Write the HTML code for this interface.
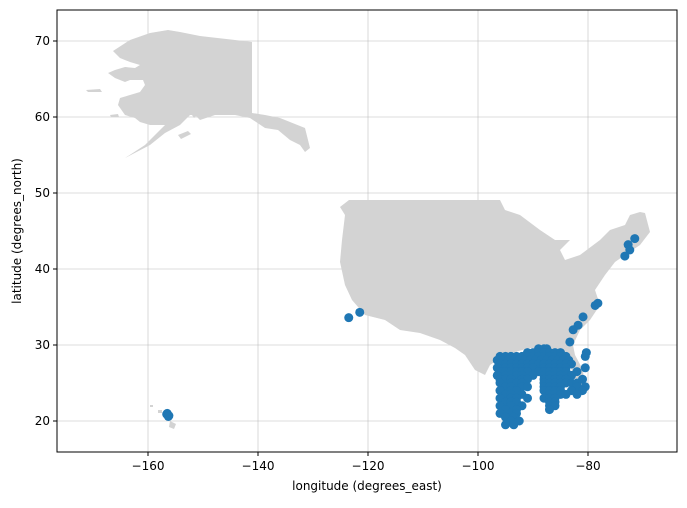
<!DOCTYPE html>
<html><head><meta charset="utf-8"><style>
body{margin:0;background:#fff;font-family:"Liberation Sans","DejaVu Sans",sans-serif}
svg text{font-family:"DejaVu Sans","Liberation Sans",sans-serif;font-size:12px;fill:#000}
</style></head><body>
<svg id="chart" width="687" height="503" viewBox="0 0 687 503" xmlns="http://www.w3.org/2000/svg">
<rect width="687" height="503" fill="#fff"/>
<defs><clipPath id="clip"><rect x="57" y="10" width="620" height="442"/></clipPath></defs>
<g id="grid"></g>
<g clip-path="url(#clip)">
<path fill="#d3d3d3" d="M113,51 L130,40 L150,33 L168,30 L180,32 L200,36 L235,40 L252,42 L252,113 L265,115 L280,118 L290,122 L305,128 L310,148 L305,152 L300,145 L290,140 L278,130 L265,128 L250,118 L235,115 L215,115 L200,120 L195,115 L190,115 L180,125 L165,133 L150,145 L125,158 L145,145 L155,135 L165,125 L150,125 L140,122 L135,118 L125,115 L118,105 L120,98 L130,95 L140,92 L145,85 L143,80 L130,80 L125,82 L115,78 L108,73 L115,70 L125,67 L135,68 L140,65 L130,62 L120,58 Z M178,135 L188,131 L191,134 L181,139 Z M190,112 L197,107 L201,111 L194,118 Z M86,90 L100,89 L102,92 L88,92 Z M110,115 L118,114 L119,117 L111,117 Z"/>
<path fill="#d3d3d3" d="M349,200 L500,200 L505,210 L520,215 L540,230 L555,240 L570,240 L560,250 L565,260 L580,255 L600,240 L610,230 L625,225 L630,215 L640,212 L645,213 L650,232 L640,245 L625,255 L615,262 L605,275 L595,290 L600,305 L590,320 L580,330 L573,345 L575,355 L583,370 L585,390 L580,395 L575,380 L570,365 L560,352 L545,348 L530,348 L515,352 L500,358 L490,365 L485,375 L475,370 L465,355 L455,348 L440,340 L420,333 L400,330 L385,320 L365,315 L352,300 L345,285 L340,262 L342,240 L345,215 L340,207 Z"/>
<path fill="#d3d3d3" d="M150,405 L153,405 L153,407 L150,407 Z M158,410 L162,410 L162,413 L158,413 Z M170,421 L176,424 L174,429 L169,427 Z"/>
</g>
<g id="points" clip-path="url(#clip)"></g>
<rect x="57" y="10" width="620" height="442" fill="none" stroke="#000" stroke-width="1"/>
<g id="axes"></g>
<text x="367" y="490" text-anchor="middle">longitude (degrees_east)</text>
<text transform="translate(21,231) rotate(-90)" text-anchor="middle">latitude (degrees_north)</text>
</svg>
<script>
const xTicks=[-160,-140,-120,-100,-80];
const yTicks=[20,30,40,50,60,70];
const lons=[-123.5,-121.5,-156.6,-156.3,-156.5,-156.2,-71.5,-72.7,-72.4,-73.3,-78.2,-78.7,-80.9,-81.8,-82.7,-83.3,-80.5,-80.3,
-89,-88,-87.5,
-91,-90,-89,-88,-87,-86,-85,
-96,-95,-94,-93,-92,-91,-90,-89,-88,-87,-86,-85,-84,
-96.5,-95.5,-94.5,-93.5,-92.5,-91.5,-90.5,-89.5,-88.5,-87.5,-86.5,-85.5,-84.5,-83.5,
-96,-95,-94,-93,-92,-91,-90,-89,-88,-87,-86,-85,-84,-83,
-96.5,-95,-94,-93,-92,-91,-90,-88,-87,-86,-85,-84,-80.5,
-96,-95,-94,-93,-92,-91,-89,-88,-87,-86,-85,-84,-82,
-96.5,-95,-94,-93,-92,-90,-88,-87,-86,-85,-84,-83,
-96,-95,-94,-92,-91,-88,-87,-86,-85,-84,-81,
-96,-94,-93,-92,-88,-87,-86,-85,-84,-83,-82,
-95,-94,-92,-91,-88,-87,-86,-85,-82,-80.5,
-96,-94,-93,-88,-87,-86,-85,-83,-81,
-95,-94,-92,-87,-86,-85,-84,-82,
-96,-94,-93,-91,-88,-87,-86,
-95,-94,-93,-87,-86,
-96,-94,-92,-87,-86,
-95,-93,-87,
-96,-94,-93,
-95,-93.5,
-94,-92.5,
-95,-93.5];
const lats=[33.6,34.3,20.9,20.6,21.0,20.7,44,43.2,42.5,41.7,35.5,35.2,33.7,32.6,32,30.4,28.5,29,
29.5,29.5,29.5,
29,29,29,29,29,29,29,
28.5,28.5,28.5,28.5,28.5,28.5,28.5,28.5,28.5,28.5,28.5,28.5,28.5,
28,28,28,28,28,28,28,28,28,28,28,28,28,28,
27.5,27.5,27.5,27.5,27.5,27.5,27.5,27.5,27.5,27.5,27.5,27.5,27.5,27.5,
27,27,27,27,27,27,27,27,27,27,27,27,27,
26.5,26.5,26.5,26.5,26.5,26.5,26.5,26.5,26.5,26.5,26.5,26.5,26.5,
26,26,26,26,26,26,26,26,26,26,26,26,
25.5,25.5,25.5,25.5,25.5,25.5,25.5,25.5,25.5,25.5,25.5,
25,25,25,25,25,25,25,25,25,25,25,
24.5,24.5,24.5,24.5,24.5,24.5,24.5,24.5,24.5,24.5,
24,24,24,24,24,24,24,24,24,
23.5,23.5,23.5,23.5,23.5,23.5,23.5,23.5,
23,23,23,23,23,23,23,
22.5,22.5,22.5,22.5,22.5,
22,22,22,22,22,
21.5,21.5,21.5,
21,21,21,
20.5,20.5,
20,20,
19.5,19.5];
const NS="http://www.w3.org/2000/svg";
function xs(v){return 148+(v+160)*5.5;}
function ys(v){return 421-(v-20)*7.6;}
const grid=document.getElementById('grid'),axes=document.getElementById('axes'),pts=document.getElementById('points');
function mk(tag,attrs,parent){const e=document.createElementNS(NS,tag);for(const k in attrs)e.setAttribute(k,attrs[k]);parent.appendChild(e);return e;}
xTicks.forEach(t=>{const x=xs(t);
 const g=mk('line',{x1:x,x2:x,y1:10,y2:452,stroke:'#b0b0b0','stroke-width':0.8,'stroke-opacity':0.6},grid);
 
 
 const tk=mk('line',{x1:x,x2:x,y1:452,y2:456,stroke:'#000'},axes);
 
 
 const tx=mk('text',{x:x,y:470,'text-anchor':'middle'},axes);tx.textContent='\u2212'+Math.abs(t);
 
 
});
yTicks.forEach(t=>{const y=ys(t);
 const g=mk('line',{x1:57,x2:677,y1:y,y2:y,stroke:'#b0b0b0','stroke-width':0.8,'stroke-opacity':0.6},grid);
 
 
 const tk=mk('line',{x1:53,x2:57,y1:y,y2:y,stroke:'#000'},axes);
 
 
 const tx=mk('text',{x:50,y:y+4,'text-anchor':'end'},axes);tx.textContent=t;
 
 
});
for(let i=0;i<lons.length;i++){
 const c=mk('circle',{cx:xs(lons[i]),cy:ys(lats[i]),r:4.5,fill:'#1f77b4'},pts);
 
 
}
</script>
</body></html>
